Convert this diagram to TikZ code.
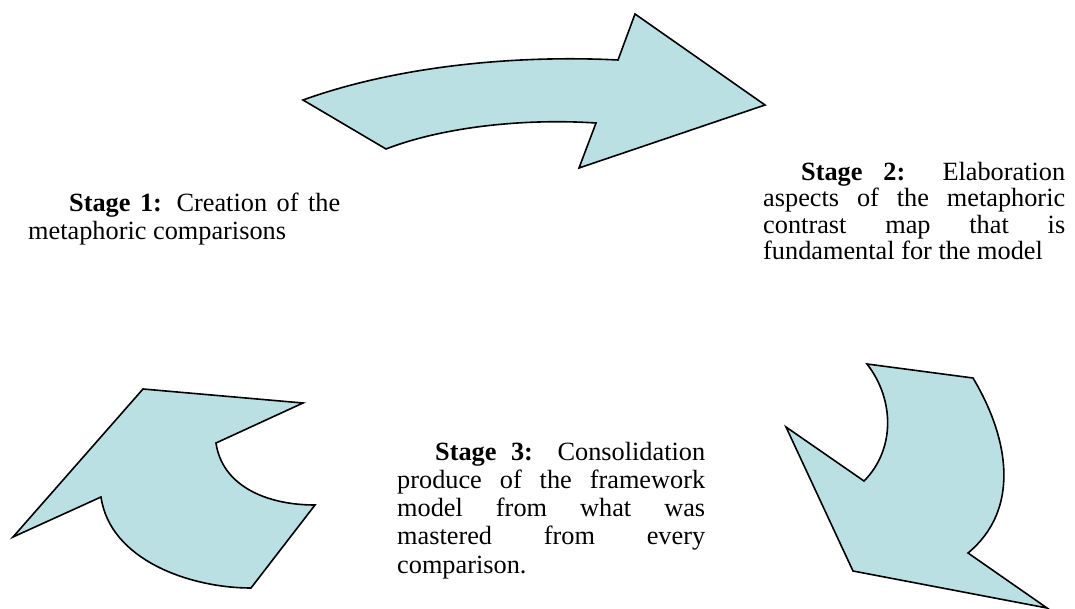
\documentclass[tikz,border=0pt]{standalone}
\usepackage{fontspec}
\setmainfont{Liberation Serif}
\definecolor{arrowfill}{RGB}{187,224,227}
\tikzstyle{stagearrow} = [draw=black, line width=1.6pt, line join=miter, fill=arrowfill]
\tikzstyle{stagetext} = [anchor=base west, inner sep=0pt, align=justify, font=\fontsize{26.3}{27}\selectfont]

\begin{document}
\begin{tikzpicture}[x=1pt, y=-1pt]
\useasboundingbox (0,0) rectangle (1075,609);

% Top arrow (Stage 1 to Stage 2)
\draw [stagearrow] (303,100) .. controls (400,65) and (520,55) .. (618,60) -- (635,14) -- (765,105) -- (579,168) -- (596,123) .. controls (520,118) and (440,128) .. (386,149) -- cycle;

% Right arrow (Stage 2 to Stage 3)
\draw [stagearrow] (867,364) -- (973,378) .. controls (1010,440) and (1020,510) .. (968,553) -- (1047,608) -- (853,571) -- (786,427) -- (864,481) .. controls (895,450) and (895,400) .. (867,364) -- cycle;

% Left arrow (Stage 3 to Stage 1)
\draw [stagearrow] (143,389) -- (303,403) -- (216,443) .. controls (222,485) and (265,505) .. (315,505) -- (251,588) .. controls (190,588) and (110,560) .. (101,497) -- (13,537) -- cycle;

% Stage texts
\node (stage1) [stagetext, text width=312pt, font=\fontsize{26.3}{28}\selectfont] at (28,211.5) {\hspace*{41pt}\textbf{Stage 1:} Creation of the\linebreak metaphoric comparisons};
\node (stage2) [stagetext, text width=302pt, font=\fontsize{26.3}{26.5}\selectfont] at (763,180.5) {\hspace*{38pt}\textbf{Stage 2:} Elaboration\linebreak aspects of the metaphoric\linebreak contrast map that is\linebreak fundamental for the model};
\node (stage3) [stagetext, text width=308pt, font=\fontsize{26.3}{28.3}\selectfont] at (397,460) {\hspace*{38pt}\textbf{Stage 3:} Consolidation\linebreak produce of the framework\linebreak model from what was\linebreak mastered from every\linebreak comparison.};

\end{tikzpicture}
\end{document}
